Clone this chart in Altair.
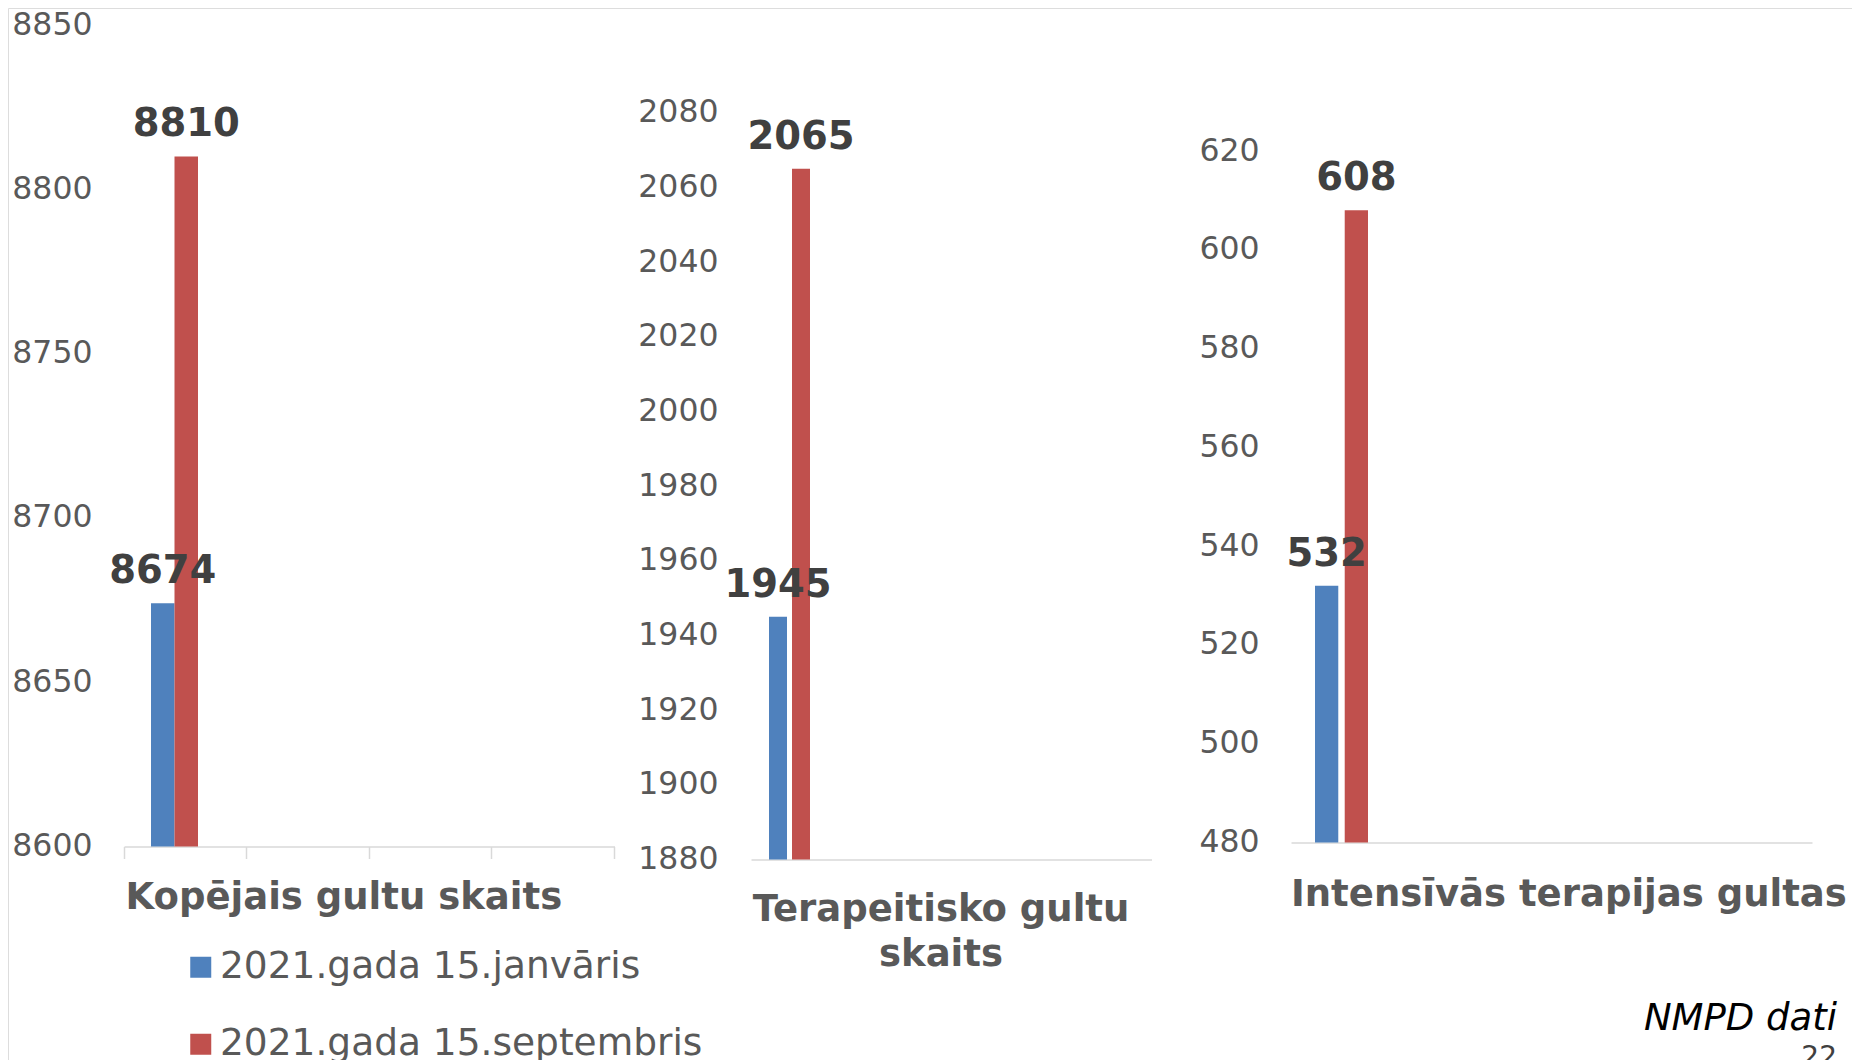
import altair as alt
import pandas as pd

# ---------------- data ----------------
kategorijas = ["Kopējais gultu skaits", "Terapeitisko gultu skaits", "Intensīvās terapijas gultas"]
periodi = ["2021.gada 15.janvāris", "2021.gada 15.septembris"]
janvaris = [8674, 1945, 532]
septembris = [8810, 2065, 608]
krasas = ["#4F81BD", "#C0504D"]

y_ticks_1 = [8600, 8650, 8700, 8750, 8800, 8850]
y_ticks_2 = [1880, 1900, 1920, 1940, 1960, 1980, 2000, 2020, 2040, 2060, 2080]
y_ticks_3 = [480, 500, 520, 540, 560, 580, 600, 620]
avots = "NMPD dati"
lappuse = "22"

rows = []
for k, j, s in zip(kategorijas, janvaris, septembris):
    rows.append({"kategorija": k, "periods": periodi[0], "vertiba": j})
    rows.append({"kategorija": k, "periods": periodi[1], "vertiba": s})
df = pd.DataFrame(rows)

# ---------------- layout ----------------
W, H = 1844, 1052
FONT = "DejaVu Sans"
GRAY = "#595959"

layout = [
    dict(x_range=[116, 606.5], slots=4, y_range=[838.5, 17], y_axis_x=84,
         title_x=117, title_align="left", title_y=62,
         off_range=[27, 74], pi=0.0),
    dict(x_range=[743, 1143.5], slots=1, y_range=[851.5, 104.7], y_axis_x=710,
         title_x=932.5, title_align="center", title_y=61,
         off_range=[18, 59], pi=0.2174),
    dict(x_range=[1283, 1804], slots=1, y_range=[834.5, 143], y_axis_x=1251,
         title_x=1282.5, title_align="left", title_y=62.5,
         off_range=[24, 77], pi=0.2167),
]
ticks_all = [y_ticks_1, y_ticks_2, y_ticks_3]
titles = [kategorijas[0], kategorijas[1].rsplit(" ", 1), kategorijas[2]]

legend = alt.Legend(
    orient="none", legendX=174, legendY=940.5, direction="vertical",
    symbolType="square", symbolSize=441, symbolStrokeWidth=0,
    labelFont=FONT, labelFontSize=37.5, labelColor=GRAY, labelOffset=0.5,
    labelLimit=1000, rowPadding=38, padding=0,
)


def panel(i):
    cfg = layout[i]
    ticks = ticks_all[i]
    lo, hi = ticks[0], ticks[-1]
    domain_x = [kategorijas[i]] + [" " * n for n in range(1, cfg["slots"])]
    x_axis = alt.Axis(
        orient="bottom", offset=cfg["y_range"][0] - H, labels=False, grid=False,
        ticks=cfg["slots"] > 1, tickSize=12, tickColor="#D9D9D9", tickWidth=1.5,
        bandPosition=1, tickExtra=True,
        domainColor="#D9D9D9", domainWidth=1.5,
        title=titles[i], titleX=cfg["title_x"], titleY=cfg["title_y"],
        titleAlign=cfg["title_align"], titleBaseline="alphabetic",
        titleFont=FONT, titleFontSize=37, titleFontWeight="bold", titleColor=GRAY,
        titleLineHeight=45, titleLimit=1000,
    )
    y_axis = alt.Axis(
        orient="left", offset=-cfg["y_axis_x"], values=ticks, format="d", domain=False,
        ticks=False, tickSize=0, labelPadding=0, grid=False,
        labelFont=FONT, labelFontSize=31.5, labelColor=GRAY,
        labelOverlap=False, labelFlush=False,
    )
    base = alt.Chart(df).transform_filter(
        alt.FieldEqualPredicate(field="kategorija", equal=kategorijas[i])
    ).encode(
        x=alt.X("kategorija:N", sort=domain_x,
                scale=alt.Scale(domain=domain_x, range=cfg["x_range"],
                                paddingInner=0, paddingOuter=0),
                axis=x_axis),
        xOffset=alt.XOffset("periods:N",
                            scale=alt.Scale(domain=periodi, range=cfg["off_range"],
                                            paddingInner=cfg["pi"], paddingOuter=0)),
        y=alt.Y("vertiba:Q", title=None,
                scale=alt.Scale(domain=[lo, hi], range=cfg["y_range"], zero=False, nice=False),
                axis=y_axis),
    )
    bars = base.mark_bar().encode(
        y2=alt.datum(lo),
        color=alt.Color("periods:N", title=None,
                        scale=alt.Scale(domain=periodi, range=krasas), legend=legend),
    )
    labels = base.mark_text(
        dy=-32, font=FONT, fontSize=38.5, fontWeight="bold", color="#404040", baseline="middle"
    ).encode(text=alt.Text("vertiba:Q", format="d"))
    return alt.layer(bars, labels)


chart = alt.layer(panel(0), panel(1), panel(2)).resolve_scale(
    x="independent", y="independent", xOffset="independent"
).resolve_axis(
    x="independent", y="independent"
).properties(
    width=W, height=H, padding=0,
    autosize=alt.AutoSizeParams(type="none"),
    title=alt.Title(
        text=avots, subtitle=lappuse, orient="bottom", anchor="end", frame="group",
        offset=-62.5, dx=-15, font=FONT, fontSize=37, fontStyle="italic",
        fontWeight="normal", color="#000000",
        subtitleFont=FONT, subtitleFontSize=28, subtitleColor="#404040", subtitlePadding=6,
    ),
).configure_view(stroke="#FFFFFF", strokeWidth=0).configure(background="#FFFFFF")

chart.save("out.html", embed_options={"renderer": "svg", "actions": False})
